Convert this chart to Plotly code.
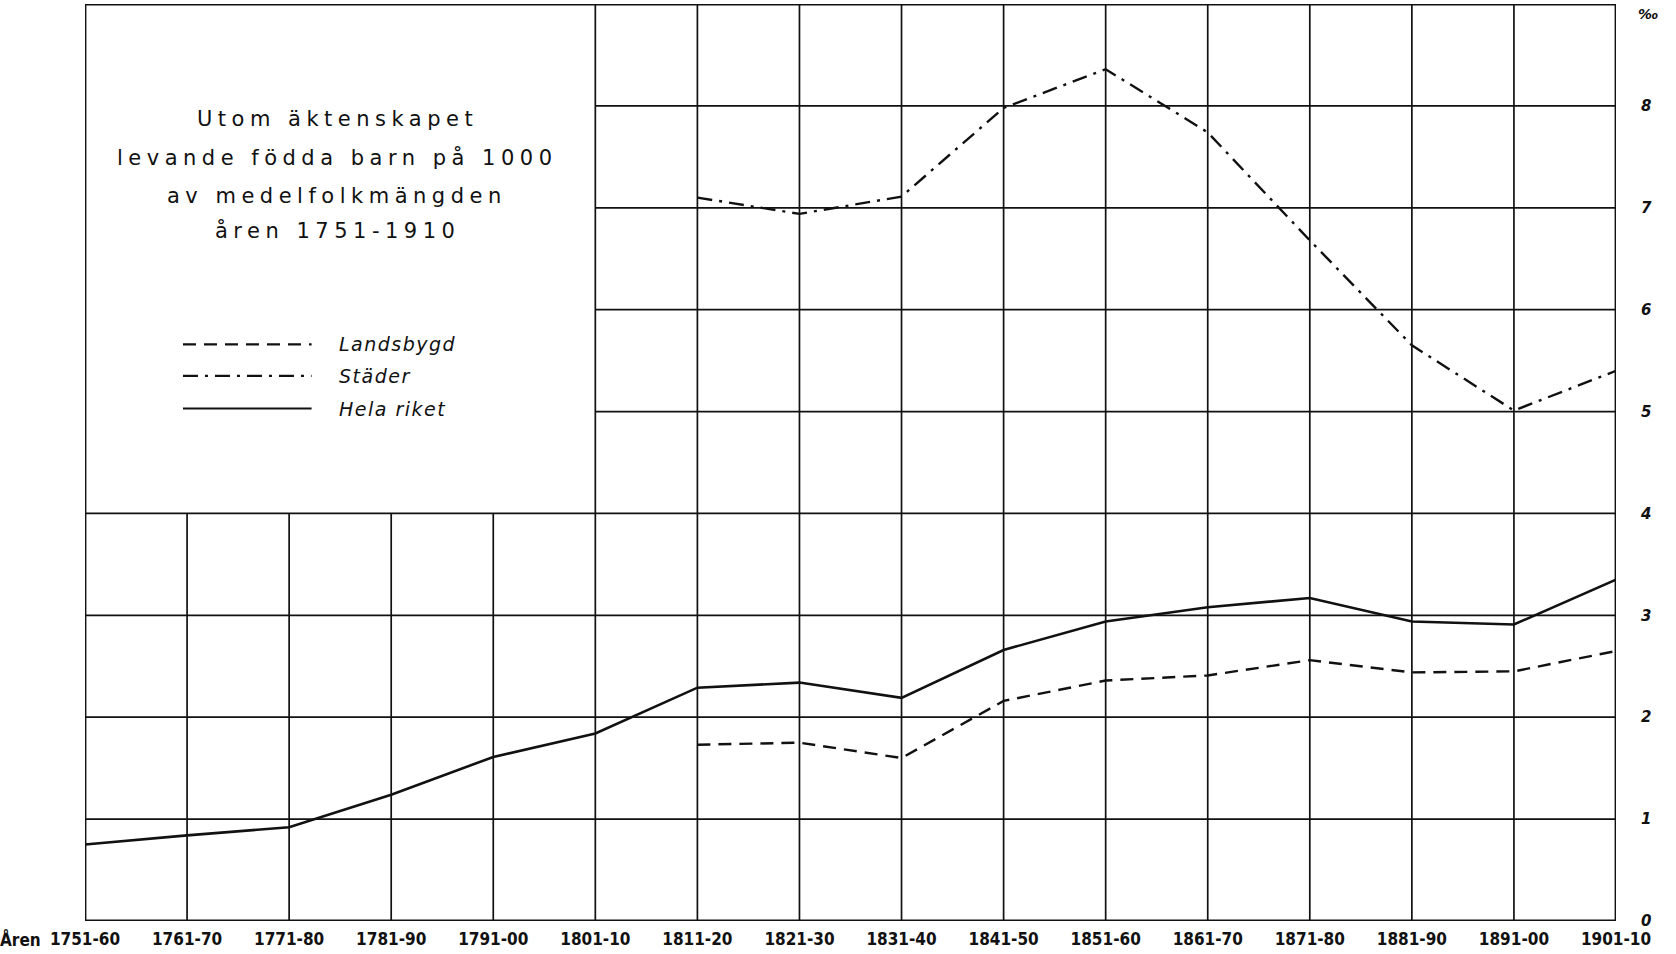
import plotly.graph_objects as go

periods = ["1751-60", "1761-70", "1771-80", "1781-90", "1791-00", "1801-10",
           "1811-20", "1821-30", "1831-40", "1841-50", "1851-60", "1861-70",
           "1871-80", "1881-90", "1891-00", "1901-10"]

hela_riket = [0.75, 0.84, 0.92, 1.24, 1.61, 1.84, 2.29, 2.34, 2.19, 2.66,
              2.94, 3.08, 3.17, 2.94, 2.91, 3.35]
landsbygd_periods = periods[6:]
landsbygd = [1.73, 1.75, 1.60, 2.16, 2.36, 2.41, 2.56, 2.44, 2.45, 2.65]
stader_periods = periods[6:]
stader = [7.10, 6.94, 7.11, 7.98, 8.36, 7.74, 6.68, 5.65, 5.01, 5.40]

y_ticks = [0, 1, 2, 3, 4, 5, 6, 7, 8]
y_ticktext = ["0", "1", "2", "3", "4", "5", "6", "7", "8"]

title_lines = ["Utom äktenskapet", "levande födda barn på 1000",
               "av medelfolkmängden", "åren 1751-1910"]
legend_names = ["Landsbygd", "Städer", "Hela riket"]

idx = {p: i for i, p in enumerate(periods)}
BLACK = "#111111"

fig = go.Figure()

fig.add_trace(go.Scatter(x=[idx[p] for p in periods], y=hela_riket, mode="lines",
                         line=dict(color=BLACK, width=2.6), name="Hela riket"))
fig.add_trace(go.Scatter(x=[idx[p] for p in landsbygd_periods], y=landsbygd, mode="lines",
                         line=dict(color=BLACK, width=2.4, dash="13px,8px"), name="Landsbygd"))
fig.add_trace(go.Scatter(x=[idx[p] for p in stader_periods], y=stader, mode="lines",
                         line=dict(color=BLACK, width=2.4, dash="15px,7px,3px,7px"), name="Städer"))

shapes = []
n = len(periods) - 1
# vertical grid lines
for i in range(1, n):
    y1 = 9 if i >= 5 else 4
    shapes.append(dict(type="line", xref="x", yref="y", x0=i, x1=i, y0=0, y1=y1,
                       line=dict(color=BLACK, width=1.7), layer="below"))
# horizontal grid lines
for v in range(1, 9):
    x0 = 0 if v <= 4 else 5
    shapes.append(dict(type="line", xref="x", yref="y", x0=x0, x1=n, y0=v, y1=v,
                       line=dict(color=BLACK, width=1.7), layer="below"))
# frame
shapes.append(dict(type="rect", xref="x", yref="y", x0=0, x1=n, y0=0, y1=9,
                   line=dict(color=BLACK, width=2.8), layer="above"))

# legend samples inside the text box
leg_y = [5.66, 5.35, 5.03]
leg_dash = ["13px,8px", "15px,7px,3px,7px", "solid"]
for yy, d in zip(leg_y, leg_dash):
    shapes.append(dict(type="line", xref="x", yref="y", x0=0.96, x1=2.22, y0=yy, y1=yy,
                       line=dict(color=BLACK, width=2.2, dash=d)))

annotations = []
title_y = [7.87, 7.49, 7.12, 6.78]
for t, yy in zip(title_lines, title_y):
    annotations.append(dict(text=f'<span style="letter-spacing:5.5px">{t}</span>',
                            xref="x", yref="y", x=2.47, y=yy, showarrow=False,
                            xanchor="center", yanchor="middle",
                            font=dict(family="DejaVu Sans", size=21, color=BLACK)))
for t, yy in zip(legend_names, leg_y):
    annotations.append(dict(text=f'<span style="letter-spacing:1.5px">{t}</span>',
                            xref="x", yref="y", x=2.47, y=yy, showarrow=False,
                            xanchor="left", yanchor="middle",
                            font=dict(family="DejaVu Sans", size=19, color=BLACK, style="italic")))
annotations.append(dict(text="Åren", xref="paper", yref="paper", x=0, y=0,
                        xanchor="right", yanchor="top", xshift=-42, yshift=-5, showarrow=False,
                        font=dict(family="DejaVu Sans Condensed, DejaVu Sans", size=17,
                                  color=BLACK, weight="bold")))
annotations.append(dict(text="‰", xref="paper", yref="paper", x=1.0, y=1.0,
                        xanchor="left", yanchor="top", xshift=20, showarrow=False,
                        font=dict(family="DejaVu Sans", size=14, color=BLACK, style="italic",
                                  weight="bold")))

fig.update_layout(
    width=1676, height=954,
    margin=dict(l=85, r=60, t=4, b=33),
    paper_bgcolor="white", plot_bgcolor="white",
    showlegend=False,
    shapes=shapes, annotations=annotations,
    xaxis=dict(range=[0, n], tickmode="array", tickvals=list(range(len(periods))),
               ticktext=periods, showgrid=False, zeroline=False, showline=False,
               ticks="", ticklabelstandoff=6, automargin=False,
               tickfont=dict(family="DejaVu Sans Condensed, DejaVu Sans", size=17,
                             color=BLACK, weight="bold")),
    yaxis=dict(range=[0, 9], side="right", tickmode="array", tickvals=y_ticks,
               ticktext=y_ticktext, showgrid=False, zeroline=False, showline=False,
               ticks="", ticklabelstandoff=24, automargin=False,
               tickfont=dict(family="DejaVu Sans", size=15, color=BLACK,
                             style="italic", weight="bold")),
)

fig.write_html("out.html", config={"displayModeBar": False},
               post_script="document.body.style.margin='0px';")
